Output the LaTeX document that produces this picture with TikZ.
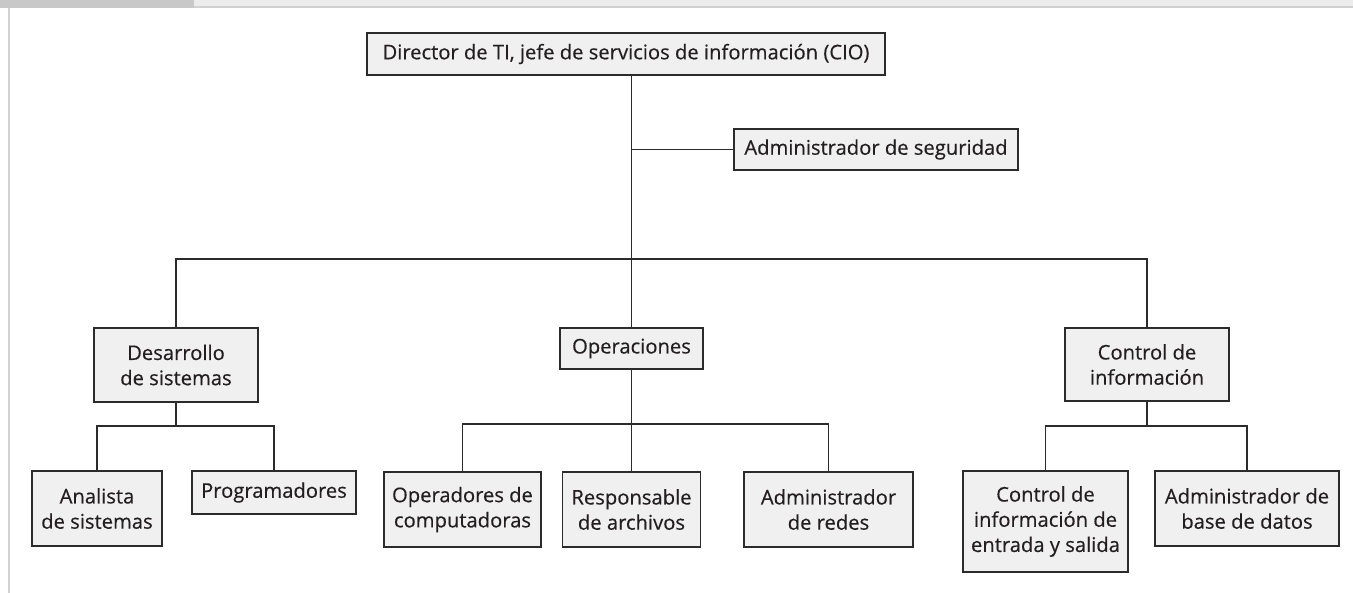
\documentclass[tikz,border=0pt]{standalone}
\usepackage{fontspec}
\setmainfont[FakeBold=0.4]{Open Sans}
\usepackage{tikz}
\usetikzlibrary{positioning}

\definecolor{boxfill}{HTML}{F0F0F0}
\definecolor{boxline}{HTML}{2B2B2B}
\definecolor{tabdark}{HTML}{C8C8C8}
\definecolor{tablight}{HTML}{ECECEC}
\definecolor{frameline}{HTML}{D2D2D2}
\definecolor{ink}{HTML}{231F20}

\begin{document}
\begin{tikzpicture}[
  x=0.5pt, y=-0.5pt,
  unit/.style 2 args={draw=boxline, fill=boxfill, text=ink, line width=0.65pt, align=center, inner sep=0pt, font=\fontsize{10.1}{12.6}\selectfont, minimum width=#1, minimum height=#2},
  link/.style={draw=boxline, line width=0.65pt},
]
\useasboundingbox (0,0) rectangle (1353,593);

% Frame
\fill[tabdark] (0,0) rectangle (194,8);
\fill[tablight] (194,0) rectangle (1353,6);
\draw[frameline, line width=1pt] (194,7) -- (1353,7);
\draw[frameline, line width=1.2pt] (9,8) -- (9,593);

% Units
\node[unit={259pt}{21pt}] (dir) at (626,54) {Director de TI, jefe de servicios de información (CIO)};
\node[unit={142pt}{20.5pt}] (seg) at (876,149.5) {Administrador de seguridad};
\node[unit={82pt}{37pt}] (des) at (176,365) {Desarrollo\\de sistemas};
\node[unit={71.5pt}{20.5pt}] (ope) at (631.5,348.5) {Operaciones};
\node[unit={82pt}{36.5pt}] (con) at (1147,364.5) {Control de\\información};
\node[unit={65pt}{37.5pt}] (ana) at (97,508.5) {Analista\\de sistemas};
\node[unit={82pt}{21.5pt}] (pro) at (274,492.5) {Programadores};
\node[unit={78.5pt}{37.5pt}] (opc) at (462.5,509.5) {Operadores de\\computadoras};
\node[unit={69pt}{37.5pt}] (res) at (631.5,509.5) {Responsable\\de archivos};
\node[unit={84.5pt}{37.5pt}] (adr) at (828.5,509.5) {Administrador\\de redes};
\node[unit={82.5pt}{50.5pt}] (cie) at (1045.5,521.5) {Control de\\información de\\entrada y salida};
\node[unit={92pt}{37.5pt}] (abd) at (1247,508.5) {Administrador de\\base de datos};

% Buses
\coordinate (topbus) at (0,259);
\coordinate (desbus) at (0,426);
\coordinate (opebus) at (0,424);
\coordinate (conbus) at (0,426);

% Links
\draw[link] (ope.north |- dir.south) -- (ope.north);
\draw[link] (seg.west) -- (seg.west -| ope.north);
\draw[link] (des.north) |- (con.north |- topbus) -- (con.north);
\draw[link] (des.south) -- (des.south |- desbus);
\draw[link] (ana.north) |- (pro.north |- desbus) -- (pro.north);
\draw[link] (ope.south) -- (res.north);
\draw[link] (opc.north) |- (adr.north |- opebus) -- (adr.north);
\draw[link] (con.south) -- (con.south |- conbus);
\draw[link] (cie.north) |- (abd.north |- conbus) -- (abd.north);

\end{tikzpicture}
\end{document}
